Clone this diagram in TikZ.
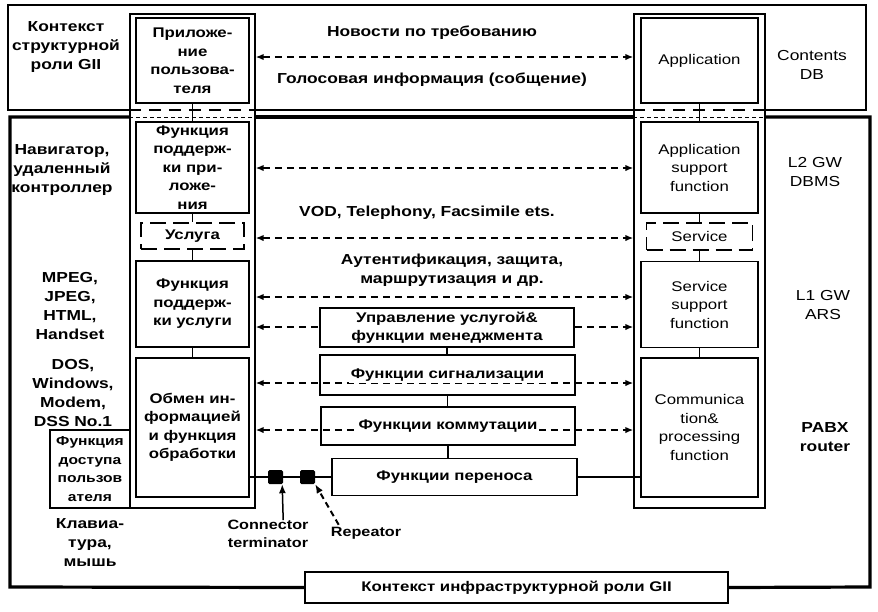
\documentclass[tikz,border=0pt]{standalone}
\usepackage{fontspec}
\setmainfont{Liberation Sans}[FakeStretch=1.2]
\usetikzlibrary{arrows.meta}
\setlength{\fboxsep}{2pt}
\begin{document}
\begin{tikzpicture}[x=1pt,y=-1pt,
  >={Latex[length=8pt,width=6.5pt]},
  every node/.style={inner sep=0pt, align=center},
  lbl/.style={font=\fontsize{14.5}{19}\selectfont\bfseries},
  rlbl/.style={font=\fontsize{14.5}{19}\selectfont},
  box/.style={draw, line width=1.8pt, font=\fontsize{14}{18.5}\selectfont\bfseries},
  ebox/.style={draw, line width=1.8pt, font=\fontsize{14}{18.5}\selectfont},
  col/.style={draw, line width=1.4pt},
  svcbox/.style={draw, line width=1.4pt, dash pattern=on 16pt off 7pt},
  thinfr/.style={line width=1.3pt},
  frm/.style={line width=3.2pt},
  link/.style={line width=1.5pt},
  dline/.style={line width=1.5pt, dash pattern=on 7pt off 5pt},
  sq/.style={fill=black, minimum width=15, minimum height=14, rounded corners=1.5pt},
  ptr/.style={line width=1.5pt, -{Latex[length=9pt,width=7pt]}}
]
\useasboundingbox (0,0) rectangle (878,611);

% the two end-system columns
\node[col, minimum width=125, minimum height=494] (lcol) at (192.5,261) {};
\node[col, minimum width=131, minimum height=494] (rcol) at (699.5,261) {};

% horizontal levels
\coordinate (yA) at (0,110);
\coordinate (yB) at (0,117);
\coordinate (r1) at (0,57);
\coordinate (r2) at (0,168);
\coordinate (r3) at (0,238);
\coordinate (r4) at (0,297);
\coordinate (r5) at (0,327);
\coordinate (r6) at (0,383);
\coordinate (r7) at (0,430);

% structural role context (upper frame)
\draw[thinfr] (lcol.west |- yA) -- (8,110) -- (8,5) -- (866,5) -- (866,110) -- (rcol.east |- yA);
\draw[thinfr] (lcol.east |- yA) -- (rcol.west |- yA);
\draw[thinfr, dash pattern=on 12pt off 8pt] (lcol.west |- yA) -- (lcol.east |- yA);
\draw[thinfr, dash pattern=on 12pt off 8pt] (rcol.west |- yA) -- (rcol.east |- yA);

% infrastructure role context (lower frame)
\node[box, line width=2.4pt, minimum width=423, minimum height=31] (gii) at (516.5,587.5) {Контекст инфраструктурной роли GII};
\draw[frm] (lcol.west |- yB) -- (10,117) -- (10,587) -- (gii.west);
\draw[frm] (gii.east) -- (870,587) -- (870,117) -- (rcol.east |- yB);
\draw[frm] (lcol.east |- yB) -- (rcol.west |- yB);
\draw[line width=0.8pt, dash pattern=on 4pt off 3pt] (lcol.west |- yB) -- (lcol.east |- yB);
\draw[line width=0.8pt, dash pattern=on 4pt off 3pt] (rcol.west |- yB) -- (rcol.east |- yB);

% user side
\node[box, minimum width=113, minimum height=85] (appL) at (192.5,60.5) {Приложе-\\ние\\пользова-\\теля};
\node[box, minimum width=113, minimum height=91] (appsupL) at (192.5,167.5) {Функция\\поддерж-\\ки при-\\ложе-\\ния};
\node[svcbox, font=\fontsize{14}{18.5}\selectfont\bfseries, minimum width=103, minimum height=26] (uslL) at (192.5,236) {Услуга};
\node[box, minimum width=113, minimum height=86] (svcL) at (192.5,304) {Функция\\поддерж-\\ки услуги};
\node[box, minimum width=113, minimum height=139] (exchL) at (192.5,427.5) {Обмен ин-\\формацией\\и функция\\обработки};
\node[box, font=\fontsize{13}{18.5}\selectfont\bfseries, minimum width=80, minimum height=78] (userL) at (90,469) {Функция\\доступа\\пользов\\ателя};

% provider side
\node[ebox, minimum width=117, minimum height=85] (appR) at (699.5,60.5) {Application};
\node[ebox, minimum width=117, minimum height=91] (appsupR) at (699.5,167.5) {Application\\support\\function};
\node[svcbox, font=\fontsize{14}{18.5}\selectfont, minimum width=106, minimum height=27] (uslR) at (699.5,236.5) {Service};
\node[ebox, minimum width=117, minimum height=86] (svcR) at (699.5,304.5) {Service\\support\\function};
\node[ebox, minimum width=117, minimum height=139] (commR) at (699.5,427.5) {Communica\\tion\&\\processing\\function};

% vertical links inside the columns
\draw[link] (appL) -- (appsupL);
\draw[link] (appsupL) -- (uslL);
\draw[link] (uslL) -- (svcL);
\draw[link] (svcL) -- (exchL);
\draw[link] (appR) -- (appsupR);
\draw[link] (appsupR) -- (uslR);
\draw[link] (uslR) -- (svcR);
\draw[link] (svcR) -- (commR);

% peer-to-peer exchanges
\draw[dline, <->] (lcol.east |- r1) -- (rcol.west |- r1);
\draw[dline, <->] (lcol.east |- r2) -- (rcol.west |- r2);
\draw[dline, <->] (lcol.east |- r3) -- (rcol.west |- r3);
\draw[dline, <->] (lcol.east |- r4) -- (rcol.west |- r4);
\draw[dline, <->] (lcol.east |- r6) -- (rcol.west |- r6);
\draw[dline, <->] (lcol.east |- r7) -- (rcol.west |- r7);

% network functions
\node[box, fill=white, minimum width=254, minimum height=39] (mgmt) at (447,327.5) {Управление услугой\&\\функции менеджмента};
\node[box, minimum width=255, minimum height=40] (sig) at (447.5,375) {\colorbox{white}{Функции сигнализации}};
\node[box, minimum width=254, minimum height=38] (swt) at (448,426) {\colorbox{white}{Функции коммутации}};
\node[box, minimum width=245, minimum height=37] (bear) at (454.5,477) {Функции переноса};
\draw[dline, <-] (lcol.east |- r5) -- (mgmt.west |- r5);
\draw[dline, ->] (mgmt.east |- r5) -- (rcol.west |- r5);
\draw[link] (mgmt.south) -- (mgmt.south |- sig.north);
\draw[link] (sig.south) -- (sig.south |- swt.north);
\draw[link] (swt.south) -- (swt.south |- bear.north);

% transport line with connector terminator and repeater
\node[sq] (ct) at (275.5,477) {};
\node[sq] (rep) at (307.5,477) {};
\draw[link] (exchL.east |- ct) -- (ct) -- (rep) -- (bear.west |- rep);
\draw[link] (bear.east) -- (commR.west |- bear.east);
\node[lbl, font=\fontsize{13.5}{18}\selectfont\bfseries] (ctlab) at (268,534) {Connector\\terminator};
\node[lbl, font=\fontsize{13.5}{18}\selectfont\bfseries] (replab) at (366,533) {Repeator};
\draw[ptr] (ctlab.north -| ct.south east) -- ([xshift=-1pt]ct.south east);
\draw[ptr, dash pattern=on 6pt off 4pt, line width=2pt] ([xshift=8pt,yshift=2pt]replab.north west) -- (rep.south east);

% texts on the exchanges
\node[lbl] (news) at (432,33) {Новости по требованию};
\node[lbl] (voice) at (432,80) {Голосовая информация (собщение)};
\node[lbl] (vod) at (427,213) {VOD, Telephony, Facsimile ets.};
\node[lbl] (auth) at (452,270) {Аутентификация, защита,\\маршрутизация и др.};

% left-hand annotations
\node[lbl] (ctxs) at (66,47) {Контекст\\структурной\\роли GII};
\node[lbl] (nav) at (62,170) {Навигатор,\\удаленный\\контроллер};
\node[lbl] (fmt) at (70,306) {MPEG,\\JPEG,\\HTML,\\Handset};
\node[lbl] (os) at (73,393) {DOS,\\Windows,\\Modem,\\DSS No.1};
\node[lbl] (kbd) at (90,543) {Клавиа-\\тура,\\мышь};

% right-hand annotations
\node[rlbl] (cdb) at (812,65) {Contents\\DB};
\node[rlbl] (l2) at (815,172) {L2 GW\\DBMS};
\node[rlbl] (l1) at (823,305) {L1 GW\\ARS};
\node[lbl] (pabx) at (825,437) {PABX\\router};
\end{tikzpicture}
\end{document}
